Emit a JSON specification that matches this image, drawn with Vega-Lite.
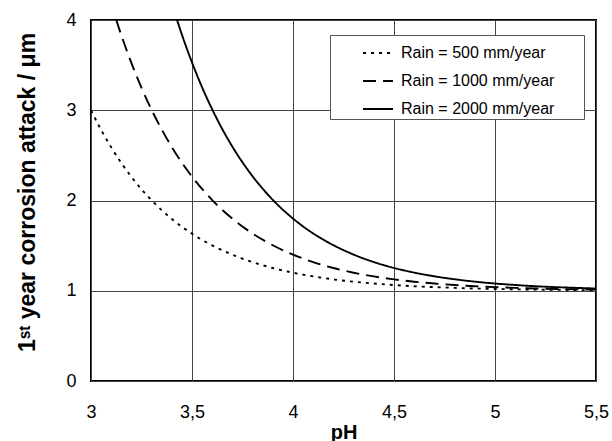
{
  "$schema": "https://vega.github.io/schema/vega-lite/v6.json",
  "width": 505,
  "height": 361,
  "autosize": {"type": "none"},
  "padding": {"left": 91, "top": 20, "right": 16, "bottom": 60},
  "background": "white",
  "config": {
    "view": {"stroke": "black", "strokeWidth": 2},
    "font": "Liberation Sans"
  },
  "data": {
    "values": [
      {"pH": 3.0, "y": 3.0, "series": "Rain = 500 mm/year"},
      {"pH": 3.05, "y": 2.783, "series": "Rain = 500 mm/year"},
      {"pH": 3.1, "y": 2.589, "series": "Rain = 500 mm/year"},
      {"pH": 3.15, "y": 2.416, "series": "Rain = 500 mm/year"},
      {"pH": 3.2, "y": 2.262, "series": "Rain = 500 mm/year"},
      {"pH": 3.3, "y": 2.002, "series": "Rain = 500 mm/year"},
      {"pH": 3.4, "y": 1.796, "series": "Rain = 500 mm/year"},
      {"pH": 3.5, "y": 1.632, "series": "Rain = 500 mm/year"},
      {"pH": 3.6, "y": 1.502, "series": "Rain = 500 mm/year"},
      {"pH": 3.7, "y": 1.399, "series": "Rain = 500 mm/year"},
      {"pH": 3.8, "y": 1.317, "series": "Rain = 500 mm/year"},
      {"pH": 3.9, "y": 1.252, "series": "Rain = 500 mm/year"},
      {"pH": 4.0, "y": 1.2, "series": "Rain = 500 mm/year"},
      {"pH": 4.1, "y": 1.159, "series": "Rain = 500 mm/year"},
      {"pH": 4.2, "y": 1.126, "series": "Rain = 500 mm/year"},
      {"pH": 4.3, "y": 1.1, "series": "Rain = 500 mm/year"},
      {"pH": 4.4, "y": 1.08, "series": "Rain = 500 mm/year"},
      {"pH": 4.5, "y": 1.063, "series": "Rain = 500 mm/year"},
      {"pH": 4.6, "y": 1.05, "series": "Rain = 500 mm/year"},
      {"pH": 4.7, "y": 1.04, "series": "Rain = 500 mm/year"},
      {"pH": 4.8, "y": 1.032, "series": "Rain = 500 mm/year"},
      {"pH": 4.9, "y": 1.025, "series": "Rain = 500 mm/year"},
      {"pH": 5.0, "y": 1.02, "series": "Rain = 500 mm/year"},
      {"pH": 5.1, "y": 1.016, "series": "Rain = 500 mm/year"},
      {"pH": 5.2, "y": 1.013, "series": "Rain = 500 mm/year"},
      {"pH": 5.3, "y": 1.01, "series": "Rain = 500 mm/year"},
      {"pH": 5.4, "y": 1.008, "series": "Rain = 500 mm/year"},
      {"pH": 5.5, "y": 1.006, "series": "Rain = 500 mm/year"},
      {"pH": 3.125, "y": 4.0, "series": "Rain = 1000 mm/year"},
      {"pH": 3.15, "y": 3.832, "series": "Rain = 1000 mm/year"},
      {"pH": 3.2, "y": 3.524, "series": "Rain = 1000 mm/year"},
      {"pH": 3.25, "y": 3.249, "series": "Rain = 1000 mm/year"},
      {"pH": 3.3, "y": 3.005, "series": "Rain = 1000 mm/year"},
      {"pH": 3.35, "y": 2.787, "series": "Rain = 1000 mm/year"},
      {"pH": 3.4, "y": 2.592, "series": "Rain = 1000 mm/year"},
      {"pH": 3.5, "y": 2.265, "series": "Rain = 1000 mm/year"},
      {"pH": 3.6, "y": 2.005, "series": "Rain = 1000 mm/year"},
      {"pH": 3.7, "y": 1.798, "series": "Rain = 1000 mm/year"},
      {"pH": 3.8, "y": 1.634, "series": "Rain = 1000 mm/year"},
      {"pH": 3.9, "y": 1.504, "series": "Rain = 1000 mm/year"},
      {"pH": 4.0, "y": 1.4, "series": "Rain = 1000 mm/year"},
      {"pH": 4.1, "y": 1.318, "series": "Rain = 1000 mm/year"},
      {"pH": 4.2, "y": 1.252, "series": "Rain = 1000 mm/year"},
      {"pH": 4.3, "y": 1.2, "series": "Rain = 1000 mm/year"},
      {"pH": 4.4, "y": 1.159, "series": "Rain = 1000 mm/year"},
      {"pH": 4.5, "y": 1.126, "series": "Rain = 1000 mm/year"},
      {"pH": 4.6, "y": 1.1, "series": "Rain = 1000 mm/year"},
      {"pH": 4.7, "y": 1.08, "series": "Rain = 1000 mm/year"},
      {"pH": 4.8, "y": 1.063, "series": "Rain = 1000 mm/year"},
      {"pH": 4.9, "y": 1.05, "series": "Rain = 1000 mm/year"},
      {"pH": 5.0, "y": 1.04, "series": "Rain = 1000 mm/year"},
      {"pH": 5.1, "y": 1.032, "series": "Rain = 1000 mm/year"},
      {"pH": 5.2, "y": 1.025, "series": "Rain = 1000 mm/year"},
      {"pH": 5.3, "y": 1.02, "series": "Rain = 1000 mm/year"},
      {"pH": 5.4, "y": 1.016, "series": "Rain = 1000 mm/year"},
      {"pH": 5.5, "y": 1.013, "series": "Rain = 1000 mm/year"},
      {"pH": 3.426, "y": 4.0, "series": "Rain = 2000 mm/year"},
      {"pH": 3.45, "y": 3.838, "series": "Rain = 2000 mm/year"},
      {"pH": 3.5, "y": 3.53, "series": "Rain = 2000 mm/year"},
      {"pH": 3.55, "y": 3.254, "series": "Rain = 2000 mm/year"},
      {"pH": 3.6, "y": 3.01, "series": "Rain = 2000 mm/year"},
      {"pH": 3.65, "y": 2.791, "series": "Rain = 2000 mm/year"},
      {"pH": 3.7, "y": 2.596, "series": "Rain = 2000 mm/year"},
      {"pH": 3.8, "y": 2.268, "series": "Rain = 2000 mm/year"},
      {"pH": 3.9, "y": 2.007, "series": "Rain = 2000 mm/year"},
      {"pH": 4.0, "y": 1.8, "series": "Rain = 2000 mm/year"},
      {"pH": 4.1, "y": 1.635, "series": "Rain = 2000 mm/year"},
      {"pH": 4.2, "y": 1.505, "series": "Rain = 2000 mm/year"},
      {"pH": 4.3, "y": 1.401, "series": "Rain = 2000 mm/year"},
      {"pH": 4.4, "y": 1.318, "series": "Rain = 2000 mm/year"},
      {"pH": 4.5, "y": 1.253, "series": "Rain = 2000 mm/year"},
      {"pH": 4.6, "y": 1.201, "series": "Rain = 2000 mm/year"},
      {"pH": 4.7, "y": 1.16, "series": "Rain = 2000 mm/year"},
      {"pH": 4.8, "y": 1.127, "series": "Rain = 2000 mm/year"},
      {"pH": 4.9, "y": 1.101, "series": "Rain = 2000 mm/year"},
      {"pH": 5.0, "y": 1.08, "series": "Rain = 2000 mm/year"},
      {"pH": 5.1, "y": 1.064, "series": "Rain = 2000 mm/year"},
      {"pH": 5.2, "y": 1.05, "series": "Rain = 2000 mm/year"},
      {"pH": 5.3, "y": 1.04, "series": "Rain = 2000 mm/year"},
      {"pH": 5.4, "y": 1.032, "series": "Rain = 2000 mm/year"},
      {"pH": 5.5, "y": 1.025, "series": "Rain = 2000 mm/year"}
    ]
  },
  "mark": {"type": "line", "color": "black", "strokeWidth": 1.9, "interpolate": "monotone", "clip": true},
  "encoding": {
    "x": {
      "field": "pH", "type": "quantitative",
      "scale": {"domain": [3, 5.5], "nice": false, "zero": false},
      "axis": {
        "title": "pH", "titleFontSize": 20, "titleFontWeight": "bold", "titleColor": "black", "titlePadding": 1,
        "values": [3, 3.5, 4, 4.5, 5, 5.5],
        "labelExpr": "replace(format(datum.value, '.1~f'), '.', ',')",
        "labelFontSize": 18, "labelColor": "black", "labelPadding": 22, "labelFlush": false,
        "ticks": false, "domain": false,
        "grid": true, "gridColor": "#444", "gridWidth": 1, "gridOpacity": 1
      }
    },
    "y": {
      "field": "y", "type": "quantitative",
      "scale": {"domain": [0, 4], "nice": false},
      "axis": {
        "title": "1ˢᵗ year corrosion attack / μm", "titleFontSize": 23, "titleFontWeight": "bold", "titleColor": "black", "titlePadding": 26, "titleY": 172,
        "values": [0, 1, 2, 3, 4],
        "labelFontSize": 18, "labelColor": "black", "labelPadding": 15,
        "ticks": false, "domain": false,
        "grid": true, "gridColor": "#444", "gridWidth": 1, "gridOpacity": 1
      }
    },
    "strokeDash": {
      "field": "series", "type": "nominal",
      "scale": {
        "domain": ["Rain = 500 mm/year", "Rain = 1000 mm/year", "Rain = 2000 mm/year"],
        "range": [[3, 5], [13, 7], [1, 0]]
      },
      "legend": {
        "orient": "none", "legendX": 239, "legendY": 15,
        "title": ".", "titleOrient": "right", "titlePadding": 26, "titleFontSize": 4, "titleColor": "white",
        "symbolType": "stroke", "symbolSize": 900, "symbolStrokeWidth": 1.9, "symbolStrokeColor": "black",
        "symbolOffset": 30, "labelOffset": 7,
        "labelFontSize": 16, "labelColor": "black", "labelLimit": 300,
        "rowPadding": 4, "padding": 2,
        "fillColor": "white", "strokeColor": "#555"
      }
    }
  }
}
